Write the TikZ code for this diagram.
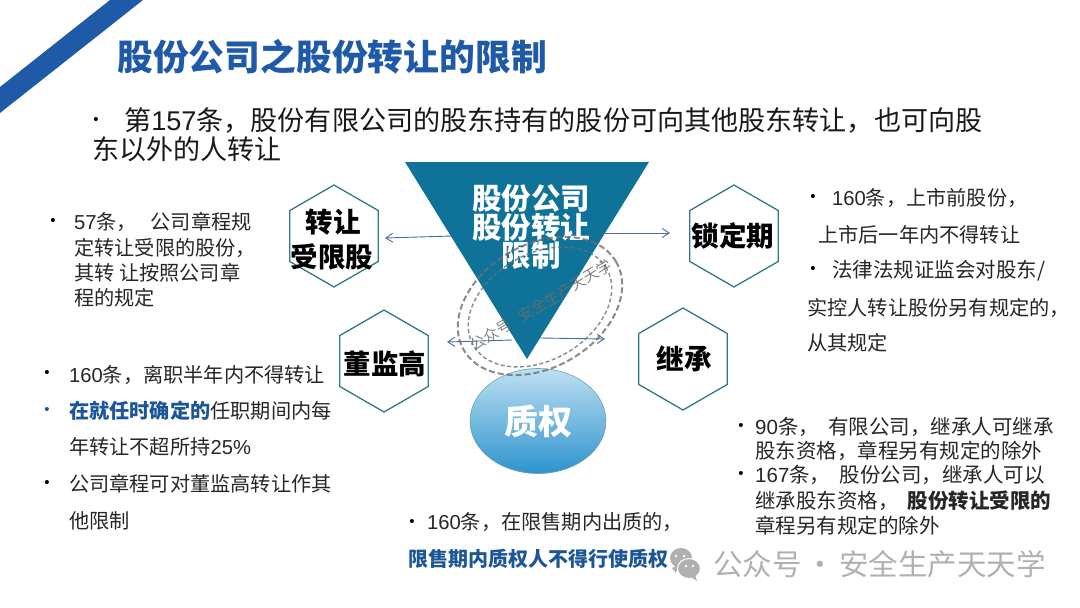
\documentclass[tikz,border=0pt]{standalone}
\usepackage{fontspec}
\setmainfont{Noto Sans CJK SC}
\newfontfamily\latn{Liberation Sans}
\usepackage{xcolor}
\definecolor{titleblue}{RGB}{31, 90, 168}
\definecolor{triteal}{RGB}{15, 114, 153}
\definecolor{hexborder}{RGB}{47, 122, 133}
\definecolor{linkblue}{RGB}{70, 108, 158}
\definecolor{emphblue}{RGB}{28, 86, 150}
\definecolor{stampgray}{RGB}{110, 110, 110}
\definecolor{markgray}{RGB}{176, 176, 176}
\definecolor{pledgetop}{RGB}{189, 224, 242}
\definecolor{pledgemid}{RGB}{80, 168, 216}
\definecolor{pledgelow}{RGB}{46, 147, 206}
\usetikzlibrary{positioning, arrows.meta, shapes.geometric}

\tikzset{
    txt/.style={anchor=west, inner sep=0pt, text height=17.6pt, text depth=2.4pt, font=\fontsize{20.2}{24}\selectfont, text=black!85},
    wide/.style={txt, font=\fontsize{20.5}{24}\selectfont},
    bul/.style={inner sep=0pt, font=\latn\fontsize{15}{15}\selectfont},
    hexa/.style={draw=hexborder, line width=1.3pt, fill=white, regular polygon, regular polygon sides=6, shape border rotate=30, minimum size=102pt, inner sep=0pt},
    hexlabel/.style={inner sep=0pt, text=black, font=\bfseries\fontsize{27.5}{32}\selectfont},
    trilabel/.style={inner sep=0pt, text=white, font=\bfseries\fontsize{29.5}{32}\selectfont},
    link/.style={draw=linkblue, line width=0.9pt, -{Straight Barb[length=7pt,width=9pt]}},
    ring/.style={draw=stampgray, opacity=.8, ellipse, rotate=30, inner sep=0pt}
}
\newcommand{\dg}[1]{{\latn #1}}

\begin{document}
\begin{tikzpicture}[x=1pt, y=-1pt]
    \useasboundingbox (0,0) rectangle (1080,608);

    % Corner band & Title
    \fill[titleblue] (110,0) -- (143,0) -- (0,113) -- (0,87) -- cycle;
    \node[anchor=center, inner sep=0pt, text=titleblue, font=\bfseries\fontsize{35.8}{40}\selectfont] (title) at (332,57) {股份公司之股份转让的限制};

    % Top sentence
    \node[bul] (topdot) at (96,121) {•};
    \node[anchor=west, inner sep=0pt, text=black!90, font=\fontsize{27.1}{32}\selectfont] (top1) at (124,120) {第\dg{157}条，股份有限公司的股东持有的股份可向其他股东转让，也可向股};
    \node[anchor=west, inner sep=0pt, text=black!90, font=\fontsize{27}{32}\selectfont] (top2) at (92,149) {东以外的人转让};

    % Centre triangle
    \fill[triteal] (405,162) -- (649,162) -- (527,359) -- cycle;
    \node[trilabel] (tri1) at (531,198) {股份公司};
    \node[trilabel] (tri2) at (531,227) {股份转让};
    \node[trilabel] (tri3) at (531,255) {限制};

    % Hexagons
    \node[hexa] (zr) at (334,236) {};
    \node[hexlabel] (zr1) at (333,222) {转让};
    \node[hexlabel] (zr2) at (332,257) {受限股};
    \node[hexa] (sd) at (734,236) {};
    \node[hexlabel] (sd1) at (733,236) {锁定期};
    \node[hexa] (dj) at (384,361) {};
    \node[hexlabel] (dj1) at (385,364) {董监高};
    \node[hexa] (jc) at (683,359) {};
    \node[hexlabel] (jc1) at (684,359) {继承};

    % Pledge ellipse
    \node[ellipse, draw=hexborder!70, line width=0.6pt, minimum width=136pt, minimum height=105pt, inner sep=0pt, top color=pledgetop, middle color=pledgemid, bottom color=pledgelow, text=white, font=\bfseries\fontsize{34}{38}\selectfont] (zq) at (538,421) {质权};

    % Arrows
    \coordinate (tl) at (452,236);
    \coordinate (tr) at (605,233);
    \coordinate (bl) at (512,340);
    \coordinate (br) at (540,338);
    \coordinate (zrend) at (385,238);
    \coordinate (sdend) at (670,233);
    \coordinate (djend) at (447,342);
    \coordinate (jcend) at (605,339);
    \draw[link] (tl) -- (zrend);
    \draw[link] (tr) -- (sdend);
    \draw[link] (bl) -- (djend);
    \draw[link] (br) -- (jcend);

    % Stamp over the triangle
    \node[ring, line width=2pt, dash pattern=on 6pt off 3pt, minimum width=176pt, minimum height=123pt] (ringout) at (540,306) {};
    \node[ring, line width=1.4pt, dash pattern=on 4pt off 2.5pt, minimum width=154pt, minimum height=106pt] (ringin) at (540,307) {};
    \node[inner sep=0pt, rotate=31, text=stampgray, opacity=.85, font=\fontsize{15}{16}\selectfont] (stamptext) at (541,305) {公众号\hspace{11pt}安全生产天天学};

    % Upper left text
    \node[bul] (ad) at (53,222) {•};
    \node[txt] (a1) at (74,222) {\dg{57}条，\ \ \ 公司章程规};
    \node[txt] (a2) at (74,248) {定转让受限的股份，};
    \node[txt] (a3) at (74,273) {其转 让按照公司章};
    \node[txt] (a4) at (74,298) {程的规定};

    % Upper right text
    \node[bul] (bd1) at (813,198) {•};
    \node[txt] (b1) at (832,198) {\dg{160}条，上市前股份，};
    \node[txt] (b2) at (818,235) {上市后一年内不得转让};
    \node[bul] (bd2) at (813,270) {•};
    \node[wide] (b3) at (832,270) {法律法规证监会对股东/};
    \node[txt] (b4) at (807,308) {实控人转让股份另有规定的，};
    \node[txt] (b5) at (807,343) {从其规定};

    % Lower left text
    \node[bul] (cd1) at (47,374) {•};
    \node[txt] (c1) at (69,375) {\dg{160}条，离职半年内不得转让};
    \node[bul, text=emphblue] (cd2) at (47,411) {•};
    \node[txt] (c2) at (69,411) {\textcolor{emphblue}{\bfseries 在就任时确定的}任职期间内每};
    \node[txt] (c3) at (69,447) {年转让不超所持\dg{25\%}};
    \node[bul] (cd3) at (47,484) {•};
    \node[txt] (c4) at (69,484) {公司章程可对董监高转让作其};
    \node[txt] (c5) at (69,521) {他限制};

    % Lower right text
    \node[bul] (dd1) at (741,427) {•};
    \node[wide] (d1) at (755,427) {\dg{90}条，\ \ 有限公司，继承人可继承};
    \node[wide] (d2) at (755,451) {股东资格，章程另有规定的除外};
    \node[bul] (dd2) at (741,475) {•};
    \node[wide] (d3) at (755,475) {\dg{167}条，\ \ 股份公司，继承人可以};
    \node[wide] (d4) at (755,501) {继承股东资格，\ \ {\bfseries 股份转让受限的}};
    \node[wide] (d5) at (755,526) {章程另有规定的除外};

    % Bottom text
    \node[bul] (ed) at (412,523) {•};
    \node[txt] (e1) at (427,522) {\dg{160}条，在限售期内出质的，};
    \node[txt, text=emphblue, font=\bfseries\fontsize{20}{24}\selectfont] (e2) at (408,559) {限售期内质权人不得行使质权};

    % Watermark
    \fill[markgray] (681,558) ellipse (11 and 10);
    \fill[markgray] (672,568) -- (676,573) -- (678,565) -- cycle;
    \fill[white] (676,556) circle (1.3);
    \fill[white] (684,556) circle (1.3);
    \fill[markgray, draw=white, line width=1pt] (689,568.5) ellipse (11.5 and 10);
    \fill[markgray] (695,575) -- (697,581) -- (691,577) -- cycle;
    \fill[white] (686,566) circle (1.4);
    \fill[white] (693,566) circle (1.4);
    \node[anchor=west, inner sep=0pt, text=markgray, font=\fontsize{29.5}{32}\selectfont] (mark) at (713,564) {公众号\hspace{4pt}·\hspace{4pt}安全生产天天学};
\end{tikzpicture}
\end{document}
